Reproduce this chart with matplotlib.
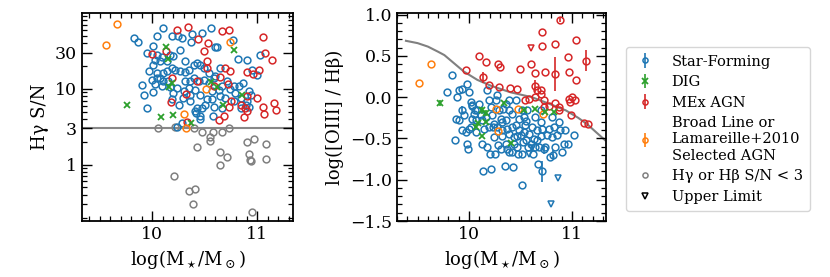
import numpy as np
import matplotlib
matplotlib.use("Agg")
import matplotlib.pyplot as plt
from matplotlib.lines import Line2D
from matplotlib.ticker import MultipleLocator, LogLocator, NullFormatter, FixedLocator, FixedFormatter

plt.rcParams['font.family'] = ['DejaVu Serif']
plt.rcParams['mathtext.fontset'] = 'dejavuserif'

# ---------------- Left panel: Hgamma S/N vs stellar mass ----------------
sf_m_l = [9.824, 9.866, 9.952, 10.01, 10.048, 10.105, 10.185, 10.24, 10.28, 10.377, 10.37, 10.473, 10.562,
          10.594, 10.617, 10.767, 10.815, 10.904, 10.946, 11.0, 11.03, 9.968, 10.01, 10.026, 10.048, 10.073,
          10.09, 10.137, 10.17, 10.20, 10.265, 10.307, 10.04, 10.0, 10.026, 10.073, 10.105, 10.137, 10.185,
          10.217, 10.265, 10.313, 10.345, 10.393, 10.425, 10.457, 10.495, 10.537, 10.60, 10.649, 10.393,
          10.36, 10.44, 10.489, 10.537, 10.585, 10.665, 10.712, 10.776, 10.824, 10.866, 10.92, 9.898, 9.92,
          10.01, 10.09, 10.105, 10.17, 10.233, 10.297, 10.36, 10.41, 10.457, 10.52, 10.569, 10.649, 10.696,
          10.776, 10.84, 10.888, 10.936, 9.946, 10.185, 10.25, 10.29, 10.36, 10.41, 10.457, 10.505, 10.585,
          10.665, 10.575, 10.418, 10.233, 10.28, 10.457, 10.425, 10.473, 10.84, 10.92, 10.04, 10.153, 10.20,
          10.313, 10.345, 10.569, 10.633, 10.744, 10.792, 10.904]
sf_sn_l = [46.4, 41.1, 29.6, 36.8, 49.8, 62.7, 49.8, 49.8, 47.3, 52.9, 42.0, 54.0, 62.7,
           36.1, 35.4, 44.2, 24.9, 24.2, 17.9, 15.1, 28.1, 17.0, 20.8, 24.2, 28.1, 23.0,
           25.9, 23.0, 28.1, 26.7, 32.7, 23.4, 13.9, 13.0, 11.6, 13.9, 16.2, 17.0, 18.8,
           17.9, 17.0, 16.7, 17.9, 20.4, 21.9, 20.8, 18.8, 16.2, 14.6, 18.8, 13.9,
           12.6, 12.6, 13.2, 12.0, 13.7, 10.8, 12.6, 10.8, 10.8, 12.0, 9.3, 11.2, 8.4,
           9.1, 10.8, 12.6, 10.5, 10.1, 9.3, 8.4, 9.5, 8.4, 7.3, 7.3, 8.0, 7.6,
           6.9, 7.6, 6.2, 8.4, 5.65, 7.3, 6.1, 7.6, 7.0, 5.1, 4.4, 6.2, 5.75,
           5.65, 4.4, 4.85, 3.09, 3.5, 3.97, 5.65, 5.5, 5.65, 5.75, 16.2, 12.6, 8.9,
           12.6, 10.1, 9.3, 9.5, 9.8, 8.9, 6.9]

dig_m_l = [9.754, 10.128, 10.153, 10.083, 10.20, 10.16, 10.19, 10.37, 10.56, 10.617, 10.674, 10.776, 10.856]
dig_sn_l = [6.1, 35.1, 24.9, 4.27, 4.5, 10.5, 12.0, 3.5, 12.2, 10.5, 6.1, 32.7, 8.2]

agn_m_l = [10.0, 10.128, 10.233, 10.339, 10.489, 10.527, 10.665, 10.728, 11.054, 11.073, 11.137, 10.19,
           10.18, 10.32, 10.425, 10.52, 10.52, 10.585, 10.649, 10.696, 10.744, 10.722, 10.728, 10.68,
           10.633, 10.754, 10.84, 10.904, 10.898, 10.872, 10.958, 10.904, 11.016, 10.994, 11.057, 11.064,
           11.16, 11.176, 10.33, 10.434, 10.88]
agn_sn_l = [28.7, 31.7, 59.7, 64.6, 31.7, 39.9, 57.9, 59.7, 47.8, 29.6, 24.2, 13.9,
            6.6, 8.6, 12.6, 23.4, 18.8, 10.8, 14.2, 18.8, 17.0, 11.4, 5.75, 4.4,
            3.85, 6.9, 6.1, 8.0, 5.1, 4.18, 15.7, 16.5, 17.9, 7.6, 5.75, 4.7,
            6.4, 5.3, 3.6, 45.0, 5.6]

bl_m_l = [9.556, 9.665, 10.744, 10.51, 10.297, 10.32]
bl_sn_l = [38.0, 70.7, 41.1, 10.0, 4.6, 3.03]

low_m_l = [10.058, 10.217, 10.40, 10.473, 10.575, 10.553, 10.546, 10.665, 10.728, 10.425, 10.21, 10.35,
           10.41, 10.383, 10.649, 10.712, 10.649, 10.898, 10.968, 11.08, 10.923, 10.93, 10.936, 11.08, 10.946]
low_sn_l = [3.03, 3.09, 3.0, 2.66, 2.66, 2.29, 2.07, 2.66, 3.0, 1.69, 0.71, 0.45,
            0.48, 0.30, 1.46, 1.25, 1.0, 1.97, 2.18, 1.87, 1.36, 1.16, 1.13, 1.18, 0.24]

sn_cut = 3.0

# ---------------- Right panel: log([OIII]/Hbeta) vs stellar mass ----------------
sf_m_r = [9.832, 9.781, 9.861, 9.903, 9.935, 9.977, 10.0, 9.903, 9.935, 9.952, 9.968, 9.984, 9.99, 10.016,
          10.026, 10.048, 10.032, 10.016, 10.065, 10.081, 10.097, 10.113, 10.129, 10.139, 10.145, 10.161,
          10.177, 10.194, 10.21, 10.203, 10.21, 10.226, 10.235, 10.242, 10.252, 10.258, 10.274, 10.29,
          10.306, 10.306, 10.323, 10.332, 10.345, 10.355, 10.371, 10.387, 10.387, 10.413, 10.419, 10.426,
          10.435, 10.452, 10.468, 10.477, 10.484, 10.5, 10.516, 10.526, 10.532, 10.542, 10.555, 10.565,
          10.574, 10.581, 10.597, 10.613, 10.623, 10.629, 10.639, 10.645, 10.661, 10.671, 10.677, 10.694,
          10.703, 10.71, 10.726, 10.735, 10.758, 10.774, 10.79, 10.806, 10.816, 10.823, 10.839, 10.855,
          10.871, 10.881, 10.903, 10.919, 10.929, 10.961, 11.016, 10.806, 10.694, 10.516, 10.484, 10.387,
          10.452, 10.387, 10.355, 10.065, 10.0, 9.935, 9.871, 9.887, 10.032, 10.058, 10.177, 10.242, 10.274,
          10.284, 10.323, 10.355, 10.371, 10.419, 10.435, 10.468, 10.516, 10.555, 10.71, 10.661, 10.532,
          10.323, 10.194, 10.129]
sf_r_r = [0.268, 0.065, -0.516, 0.085, 0.094, 0.154, 0.065, -0.28, -0.159, -0.22, -0.423, -0.565, -0.626,
          -0.057, -0.11, -0.2, -0.26, -0.362, -0.423, -0.159, -0.077, -0.22, -0.565, -0.898, -0.382, -0.24,
          0.085, -0.037, -0.118, -0.687, -0.87, -0.22, -0.362, -0.484, -0.687, -0.037, 0.024, -0.159,
          -0.26, -0.626, -0.3, -0.138, -0.837, -0.28, -0.382, -0.443, -0.667, -0.362, -0.2, -0.841,
          -0.484, -0.341, -0.606, -0.687, -0.402, -0.463, -1.065, -0.545, -0.24, -0.341, -0.289, -0.159,
          -0.606, -0.443, -0.565, -0.362, -0.687, -0.504, -0.24, -0.606, -0.402, -0.809, -0.606, -0.3,
          -0.476, -0.898, -0.626, -0.606, -0.463, -0.382, -0.728, -0.484, -0.695, -0.362, -0.606, -0.463,
          -0.3, -0.402, -0.667, -0.565, -0.402, -0.565, -0.463, -0.24, -0.159, -0.159, -0.26, -0.159,
          -0.037, -0.037, -0.077, -0.28, -0.382, -0.394, -0.26, 0.004, -0.098, -0.15, -0.606, -0.32, -0.362,
          -0.585, -0.476, -0.565, -0.626, -0.667, -0.573, -0.476, -0.687, -0.524, -0.382, -0.524, -0.423,
          -0.402, -0.362, -0.28]
sf_e_r = [0.0, 0.0, 0.0, 0.0, 0.0, 0.0, 0.0, 0.0, 0.05, 0.0, 0.0, 0.0, 0.0, 0.0,
          0.0, 0.0, 0.0, 0.0, 0.0, 0.0, 0.0, 0.0, 0.0, 0.0, 0.0, 0.0,
          0.0, 0.0, 0.0, 0.0, 0.0, 0.0, 0.0, 0.0, 0.0, 0.0, 0.0, 0.0,
          0.0, 0.0, 0.0, 0.0, 0.0, 0.0, 0.0, 0.0, 0.0, 0.0, 0.0, 0.0,
          0.0, 0.0, 0.0, 0.0, 0.0, 0.0, 0.0, 0.0, 0.0, 0.0, 0.0, 0.0,
          0.0, 0.0, 0.0, 0.0, 0.0, 0.0, 0.0, 0.0, 0.0, 0.0, 0.0, 0.0,
          0.0, 0.13, 0.06, 0.0, 0.0, 0.0, 0.0, 0.0, 0.05, 0.0, 0.0, 0.0,
          0.0, 0.0, 0.0, 0.0, 0.0, 0.0, 0.0, 0.0, 0.0, 0.0, 0.0, 0.0,
          0.0, 0.0, 0.0, 0.0, 0.0, 0.0, 0.0, 0.0, 0.0, 0.0, 0.0, 0.0, 0.0,
          0.0, 0.0, 0.0, 0.0, 0.0, 0.0, 0.0, 0.0, 0.0, 0.0, 0.0, 0.0,
          0.0, 0.0, 0.0]

dig_m_r = [9.716, 10.123, 10.123, 10.065, 10.161, 10.09, 10.339, 10.403, 10.532, 10.645, 10.742, 10.823, 10.168]
dig_r_r = [-0.07, -0.159, -0.476, -0.36, -0.3, -0.31, -0.07, -0.557, -0.159, -0.138, -0.179, -0.179, -0.19]
dig_e_r = [0.04, 0.04, 0.0, 0.0, 0.0, 0.0, 0.0, 0.0, 0.0, 0.0, 0.0, 0.0, 0.04]

agn_m_r = [10.881, 10.71, 10.71, 10.839, 11.039, 10.097, 10.161, 10.284, 10.297, 10.494, 10.606, 10.639,
           10.742, 10.968, 10.839, 10.139, 10.194, 10.29, 10.394, 10.468, 10.645, 10.661, 10.703, 10.694,
           9.968, 10.968, 11.0, 11.032, 10.984, 10.839, 10.871, 10.774, 10.732, 10.645, 10.581, 10.548,
           10.726, 10.871, 10.994, 11.113, 11.155, 11.139, 10.961, 11.039]
agn_r_r = [0.939, 0.789, 0.622, 0.642, 0.695, 0.5, 0.431, 0.398, 0.37, 0.337, 0.398, 0.289,
           0.309, 0.309, 0.28, 0.24, 0.146, 0.118, 0.106, 0.094, 0.134, 0.085, 0.085, 0.037,
           0.329, -0.016, 0.004, -0.037, -0.057, -0.065, -0.118, -0.11, -0.037, 0.004, -0.016, -0.03,
           -0.118, -0.159, -0.22, -0.313, -0.329, 0.443, 0.484, 0.207]
agn_e_r = [0.03, 0.0, 0.0, 0.0, 0.0, 0.0, 0.0, 0.0, 0.0, 0.0, 0.0, 0.0,
           0.0, 0.0, 0.21, 0.07, 0.0, 0.0, 0.0, 0.0, 0.07, 0.0, 0.0, 0.0,
           0.0, 0.0, 0.0, 0.0, 0.0, 0.0, 0.0, 0.0, 0.0, 0.0, 0.0, 0.0,
           0.0, 0.0, 0.0, 0.0, 0.0, 0.13, 0.0, 0.0]

bl_m_r = [9.516, 9.629, 10.265, 10.284, 10.477, 10.716]
bl_r_r = [0.175, 0.402, -0.138, -0.411, -0.138, -0.2]

ul_sf_m = [10.613, 10.58, 10.865, 10.797]
ul_sf_r = [-0.614, -0.687, -0.98, -1.297]
ul_agn_m = [10.597]
ul_agn_r = [0.594]

# demarcation curve
curve_m = [9.387, 9.5, 9.6, 9.7, 9.76, 9.855, 9.95, 10.08, 10.21, 10.4, 10.61, 10.8, 10.94, 11.06, 11.15, 11.23, 11.32]
curve_r = [0.683, 0.655, 0.613, 0.55, 0.51, 0.41, 0.31, 0.21, 0.14, 0.06, 0.0, -0.09, -0.16, -0.25, -0.33, -0.42, -0.52]

C_SF = '#1f77b4'
C_DIG = '#2ca02c'
C_AGN = '#d62728'
C_BL = '#ff7f0e'
C_LOW = '#808080'

fig = plt.figure(figsize=(8.3, 2.77), dpi=100)
axL = fig.add_axes([82/830, 56/277, 211/830, 208/277])
axR = fig.add_axes([397/830, 56/277, 209/830, 208/277])

ms = 4.9
mew = 1.1

def style_axes(ax):
    ax.tick_params(which='both', direction='in', top=True, right=True, labelsize=12.5)
    ax.tick_params(which='major', length=7, width=1.0)
    ax.tick_params(which='minor', length=3.5, width=0.9)
    for s in ax.spines.values():
        s.set_linewidth(1.3)
    ax.xaxis.set_major_locator(FixedLocator([10, 11]))
    ax.xaxis.set_minor_locator(MultipleLocator(0.1))
    ax.set_xlabel(r'log(M$_\star$/M$_\odot$)', fontsize=13)

# Left panel
axL.set_yscale('log')
axL.axhline(sn_cut, color='#888888', lw=1.5, zorder=1)
axL.plot(low_m_l, low_sn_l, 'o', mfc='none', mec=C_LOW, ms=ms, mew=mew, zorder=2)
axL.plot(sf_m_l, sf_sn_l, 'o', mfc='none', mec=C_SF, ms=ms, mew=mew, zorder=3)
axL.plot(agn_m_l, agn_sn_l, 'o', mfc='none', mec=C_AGN, ms=ms, mew=mew, zorder=3)
axL.plot(dig_m_l, dig_sn_l, 'x', color=C_DIG, ms=ms, mew=1.3, zorder=4)
axL.plot(bl_m_l, bl_sn_l, 'o', mfc='none', mec=C_BL, ms=ms, mew=mew, zorder=4)
axL.set_xlim(9.33, 11.34)
axL.set_ylim(0.18, 100)
style_axes(axL)
axL.yaxis.set_major_locator(FixedLocator([1, 3, 10, 30]))
axL.yaxis.set_major_formatter(FixedFormatter(['1', '3', '10', '30']))
axL.yaxis.set_minor_locator(LogLocator(base=10, subs=np.arange(2, 10)))
axL.yaxis.set_minor_formatter(NullFormatter())
axL.set_ylabel('Hγ S/N', fontsize=13)

# Right panel
axR.plot(curve_m, curve_r, color='#808080', lw=1.5, zorder=1)
ekw = dict(fmt='o', mfc='none', ms=ms, mew=mew, elinewidth=1.2, capsize=0, zorder=3)
h_sf = axR.errorbar(sf_m_r, sf_r_r, yerr=sf_e_r, color=C_SF, mec=C_SF, label='Star-Forming', **ekw)
h_agn = axR.errorbar(agn_m_r, agn_r_r, yerr=agn_e_r, color=C_AGN, mec=C_AGN, label='MEx AGN', **ekw)
h_dig = axR.errorbar(dig_m_r, dig_r_r, yerr=dig_e_r, fmt='x', color=C_DIG, ms=ms, mew=1.3,
                     elinewidth=1.2, capsize=0, zorder=4, label='DIG')
h_bl = axR.errorbar(bl_m_r, bl_r_r, yerr=[0.0]*len(bl_m_r), color=C_BL, mec=C_BL,
                    label='Broad Line or\nLamareille+2010\nSelected AGN', **ekw)
axR.plot(ul_sf_m, ul_sf_r, 'v', mfc='none', mec=C_SF, ms=ms, mew=mew, zorder=3)
axR.plot(ul_agn_m, ul_agn_r, 'v', mfc='none', mec=C_AGN, ms=ms, mew=mew, zorder=3)
axR.set_xlim(9.3, 11.33)
axR.set_ylim(-1.5, 1.02)
style_axes(axR)
axR.yaxis.set_major_locator(MultipleLocator(0.5))
axR.yaxis.set_minor_locator(MultipleLocator(0.1))
axR.yaxis.set_major_formatter(plt.FuncFormatter(lambda v, p: f'{v:.1f}'.replace('-', '\u2212')))
axR.set_ylabel('log([OIII] / Hβ)', fontsize=13)

h_low = Line2D([], [], ls='none', marker='o', mfc='none', mec=C_LOW, ms=ms, mew=mew)
h_ul = Line2D([], [], ls='none', marker='v', mfc='none', mec='k', ms=ms, mew=mew)
fig.legend([h_sf, h_dig, h_agn, h_bl, h_low, h_ul],
           ['Star-Forming', 'DIG', 'MEx AGN', 'Broad Line or\nLamareille+2010\nSelected AGN',
            'Hγ or Hβ S/N < 3', 'Upper Limit'],
           loc='upper left', bbox_to_anchor=(619/830, 1 - 40/277), fontsize=10.5,
           markerscale=0.75, handlelength=1.5, handletextpad=1.1, labelspacing=0.45,
           frameon=True, fancybox=True, edgecolor='#cccccc', borderpad=0.5)

fig.savefig('out.png', dpi=100)
